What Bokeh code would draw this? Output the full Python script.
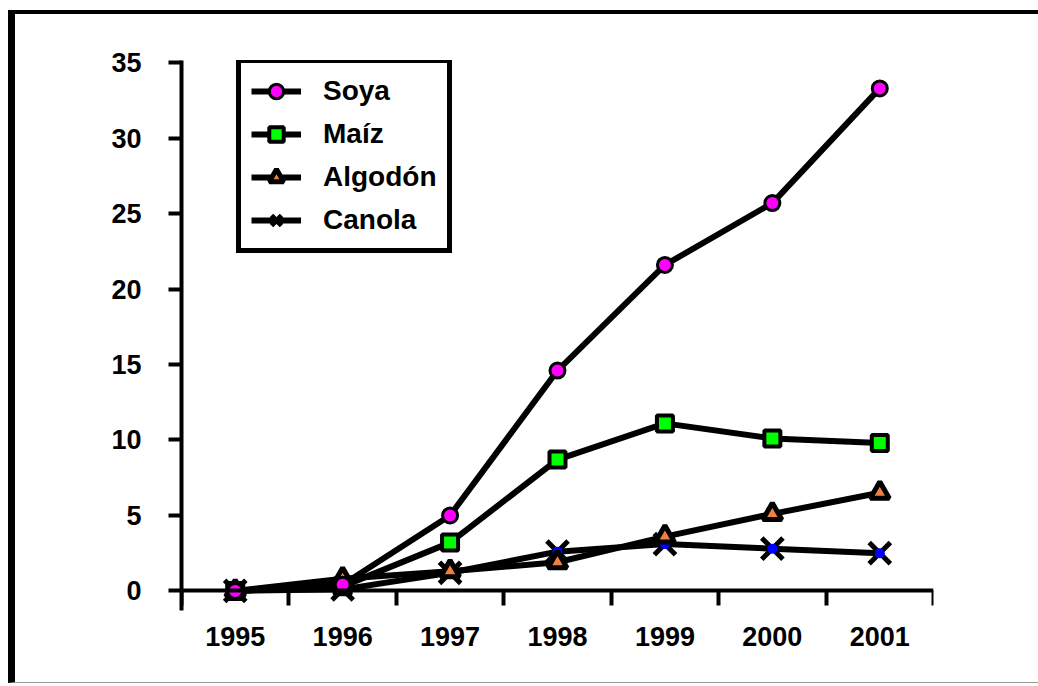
from bokeh.plotting import figure
from bokeh.models import Range1d, FixedTicker, Legend, LegendItem, LinearAxis
from bokeh.embed import file_html
from bokeh.resources import INLINE

years = ["1995", "1996", "1997", "1998", "1999", "2000", "2001"]
soya = [0.0, 0.4, 5.0, 14.6, 21.6, 25.7, 33.3]
maiz = [0.0, 0.3, 3.2, 8.7, 11.1, 10.1, 9.8]
algodon = [0.0, 0.8, 1.3, 1.9, 3.6, 5.1, 6.5]
canola = [0.0, 0.1, 1.2, 2.6, 3.1, 2.8, 2.5]
y_ticks = [0, 5, 10, 15, 20, 25, 30, 35]

xs = list(range(len(years)))
FONT = "Liberation Sans"

p = figure(width=1023, height=668, frame_width=752, frame_height=550,
           x_range=Range1d(-0.5, len(years) - 0.5), y_range=Range1d(-1.3, 35.15),
           output_backend="svg", toolbar_location=None,
           min_border_left=166, min_border_top=46, min_border_right=105, min_border_bottom=72)
p.styles = {"margin-left": "8px", "margin-top": "10px",
            "border-left": "7px solid black", "border-top": "4px solid black",
            "border-bottom": "1px solid #999999"}
p.outline_line_color = None
p.xgrid.visible = False
p.ygrid.visible = False
p.background_fill_color = "white"
p.border_fill_color = "white"

# label axis (year names at the category centres)
xl = p.xaxis[0]
xl.ticker = FixedTicker(ticks=xs, minor_ticks=[])
xl.major_label_overrides = {i: y for i, y in zip(xs, years)}
xl.axis_line_color = None
xl.major_tick_line_color = None
xl.minor_tick_line_color = None
xl.major_tick_out = 0
xl.major_tick_in = 0
xl.minor_tick_out = 0
xl.minor_tick_in = 0
xl.major_label_standoff = 16
xl.major_label_text_font = FONT
xl.major_label_text_font_style = "bold"
xl.major_label_text_font_size = "27px"
xl.major_label_text_color = "black"

# axis line at y = 0 with ticks between the categories
xa = LinearAxis(fixed_location=0,
                ticker=FixedTicker(ticks=[], minor_ticks=[i - 0.5 for i in range(len(years) + 1)]),
                major_tick_out=0, major_tick_in=0, minor_tick_out=15, minor_tick_in=0,
                minor_tick_line_width=4, minor_tick_line_color="black",
                axis_line_width=4, axis_line_color="black",
                major_label_text_font_size="0px")
p.add_layout(xa, "below")

ya = p.yaxis[0]
ya.ticker = FixedTicker(ticks=y_ticks, minor_ticks=[])
ya.major_tick_out = 13
ya.major_tick_in = 0
ya.minor_tick_out = 0
ya.minor_tick_in = 0
ya.major_tick_line_width = 4
ya.major_tick_line_color = "black"
ya.axis_line_width = 4
ya.axis_line_color = "black"
ya.major_label_standoff = 27
ya.major_label_text_font = FONT
ya.major_label_text_font_style = "bold"
ya.major_label_text_font_size = "27px"
ya.major_label_text_color = "black"

LW = 6
l_soya = p.line(xs, soya, line_color="black", line_width=LW)
l_maiz = p.line(xs, maiz, line_color="black", line_width=LW)
l_alg = p.line(xs, algodon, line_color="black", line_width=LW)
l_can = p.line(xs, canola, line_color="black", line_width=LW)

m_can = p.scatter(xs, canola, marker="x", size=30, line_color="black", line_width=5)
m_can2 = p.scatter(xs, canola, marker="circle", size=10, fill_color="#0000FF", line_color=None)
m_can_leg = p.scatter(x=[], y=[], marker="dot", line_color="#0000FF", fill_color="#0000FF")
m_alg = p.scatter(xs, algodon, marker="triangle", size=19, fill_color="#F08040",
                  line_color="black", line_width=5)
m_maiz = p.scatter(xs, maiz, marker="square", size=16, fill_color="#00FF00",
                   line_color="black", line_width=4)
m_soya = p.scatter(xs, soya, marker="circle", size=15, fill_color="#FF00FF",
                   line_color="black", line_width=3)

legend = Legend(items=[
    LegendItem(label="Soya", renderers=[l_soya, m_soya]),
    LegendItem(label="Maíz", renderers=[l_maiz, m_maiz]),
    LegendItem(label="Algodón", renderers=[l_alg, m_alg]),
    LegendItem(label="Canola", renderers=[l_can, m_can, m_can_leg]),
], location=(55, 357), border_line_color="black", border_line_width=5, border_line_alpha=1.0,
   label_text_font=FONT, label_text_font_style="bold", label_text_font_size="28px",
   label_text_color="black",
   glyph_width=50, glyph_height=36, label_standoff=22, spacing=7, padding=10,
   background_fill_color="white", background_fill_alpha=1.0, margin=0)
p.add_layout(legend)

open("out.html", "w").write(file_html(p, INLINE))
